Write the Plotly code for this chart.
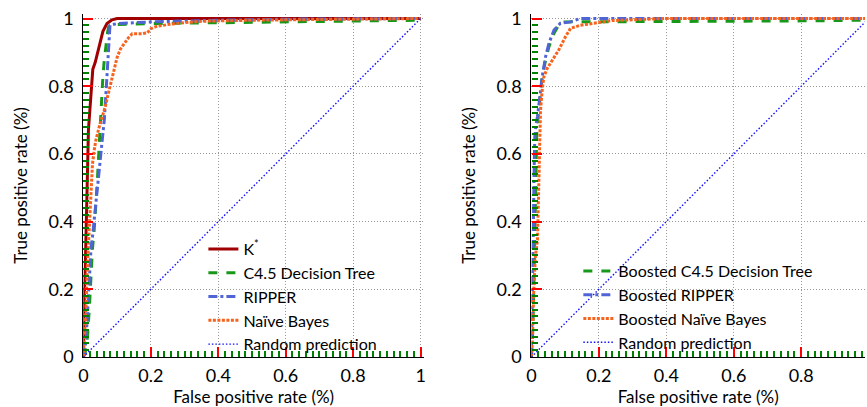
import plotly.graph_objects as go

# ---------------- data ----------------
# Left panel
kstar_x = [0, 0.001, 0.003, 0.006, 0.009, 0.011, 0.013, 0.015, 0.019, 0.022, 0.025, 0.028, 0.035, 0.042, 0.05, 0.058, 0.07, 0.085, 0.1, 0.3, 0.6, 1.0]
kstar_y = [0, 0.08, 0.18, 0.28, 0.38, 0.48, 0.58, 0.67, 0.72, 0.76, 0.80, 0.85, 0.87, 0.90, 0.935, 0.962, 0.985, 0.996, 1.0, 1.0, 1.0, 1.0]

c45_x = [0, 0.005, 0.01, 0.013, 0.018, 0.023, 0.027, 0.032, 0.038, 0.042, 0.047, 0.051, 0.054, 0.058, 0.062, 0.067, 0.072, 0.076, 0.1, 0.2, 0.4, 0.6, 0.8, 1.0]
c45_y = [0, 0.01, 0.04, 0.07, 0.15, 0.27, 0.32, 0.375, 0.455, 0.53, 0.626, 0.70, 0.78, 0.83, 0.877, 0.927, 0.96, 0.98, 0.982, 0.985, 0.988, 0.99, 0.993, 0.995]

ripper_x = [0, 0.003, 0.008, 0.013, 0.018, 0.023, 0.027, 0.037, 0.047, 0.057, 0.062, 0.067, 0.072, 0.076, 0.079, 0.1, 0.2, 0.4, 0.6, 1.0]
ripper_y = [0, 0.01, 0.05, 0.149, 0.248, 0.326, 0.355, 0.454, 0.572, 0.67, 0.70, 0.78, 0.877, 0.95, 0.98, 0.985, 0.99, 0.995, 0.998, 1.0]

nb_x = [0, 0.002, 0.005, 0.008, 0.011, 0.015, 0.018, 0.023, 0.027, 0.032, 0.037, 0.047, 0.057, 0.065, 0.072, 0.081, 0.09, 0.1, 0.11, 0.12, 0.135, 0.145, 0.16, 0.175, 0.19, 0.2, 0.215, 0.25, 0.3, 0.356, 0.5, 0.7, 1.0]
nb_y = [0, 0.03, 0.08, 0.15, 0.25, 0.33, 0.40, 0.50, 0.57, 0.61, 0.64, 0.68, 0.71, 0.74, 0.77, 0.81, 0.85, 0.885, 0.91, 0.925, 0.945, 0.955, 0.955, 0.955, 0.958, 0.97, 0.976, 0.982, 0.988, 0.992, 0.995, 0.997, 1.0]

# Right panel (boosted)
bc45_x = [0, 0.003, 0.006, 0.009, 0.011, 0.013, 0.016, 0.019, 0.022, 0.027, 0.032, 0.042, 0.052, 0.067, 0.086, 0.11, 0.2, 0.4, 0.6, 0.8, 1.0]
bc45_y = [0, 0.05, 0.15, 0.30, 0.45, 0.60, 0.67, 0.70, 0.73, 0.789, 0.828, 0.877, 0.917, 0.956, 0.99, 0.99, 0.99, 0.99, 0.992, 0.993, 0.995]

bripper_x = [0, 0.002, 0.004, 0.006, 0.008, 0.010, 0.014, 0.018, 0.025, 0.032, 0.042, 0.052, 0.067, 0.086, 0.116, 0.145, 0.3, 1.0]
bripper_y = [0, 0.10, 0.25, 0.40, 0.55, 0.65, 0.69, 0.71, 0.769, 0.828, 0.887, 0.927, 0.966, 0.986, 0.99, 1.0, 1.0, 1.0]

bnb_x = [0, 0.003, 0.007, 0.012, 0.018, 0.021, 0.024, 0.027, 0.032, 0.037, 0.047, 0.057, 0.067, 0.081, 0.101, 0.116, 0.145, 0.204, 0.24, 0.4, 1.0]
bnb_y = [0, 0.05, 0.20, 0.30, 0.346, 0.50, 0.67, 0.73, 0.789, 0.828, 0.853, 0.868, 0.882, 0.907, 0.946, 0.971, 0.98, 0.99, 0.994, 1.0, 1.0]

rand_x = [0, 1]
rand_y = [0, 1]

# axis ticks: major every 0.2 (labels 0, 0.2, ... 1), minor every 0.02
major_step = 0.2
minor_step = 0.02

# ---------------- styles ----------------
RED = "#a00000"
GREEN = "#189818"
BLUE = "#5064d6"
ORANGE = "#f7621c"
RBLUE = "#1010ff"
FONT = "Lato"

W, H = 867, 407
PX_X = 340.0   # pixels per unit on x
PX_Y = 338.5   # pixels per unit on y
X0_L, X0_R = 79.0, 530.7
Y0 = 357
TOP = 14
YMAX = (Y0 - TOP) / PX_Y
XMAX_L = 1.01
XMAX_R = (W - X0_R) / PX_X
bottom = H - Y0

fig = go.Figure()

def add(x, y, name, color, dash, width, xa, ya, legend):
    fig.add_trace(go.Scatter(x=x, y=y, mode="lines", name=name,
                             line=dict(color=color, dash=dash, width=width),
                             xaxis=xa, yaxis=ya, legend=legend))

NB_DASH = "3px,1.5px"
RAND_DASH = "1.5px,2px"

add(kstar_x, kstar_y, "K<sup>*</sup>", RED, "solid", 3, "x", "y", "legend")
add(c45_x, c45_y, "C4.5 Decision Tree", GREEN, "dash", 3, "x", "y", "legend")
add(ripper_x, ripper_y, "RIPPER", BLUE, "dashdot", 3, "x", "y", "legend")
add(nb_x, nb_y, "Naïve Bayes", ORANGE, NB_DASH, 3, "x", "y", "legend")
add(rand_x, rand_y, "Random prediction", RBLUE, RAND_DASH, 1.4, "x", "y", "legend")

add(bc45_x, bc45_y, "Boosted C4.5 Decision Tree", GREEN, "dash", 3, "x2", "y2", "legend2")
add(bripper_x, bripper_y, "Boosted RIPPER", BLUE, "dashdot", 3, "x2", "y2", "legend2")
add(bnb_x, bnb_y, "Boosted Naïve Bayes", ORANGE, NB_DASH, 3, "x2", "y2", "legend2")
add(rand_x, rand_y, "Random prediction", RBLUE, RAND_DASH, 1.4, "x2", "y2", "legend2")

axis_common = dict(
    tickmode="linear", tick0=0, dtick=major_step,
    ticks="inside", ticklen=10, tickcolor="red", tickwidth=2,
    minor=dict(tickmode="linear", tick0=0, dtick=minor_step, ticks="inside", ticklen=6,
               tickcolor="green", tickwidth=1.5),
    showgrid=True, gridcolor="#9a9a9a", griddash="1px,2px", gridwidth=1,
    showline=True, linecolor="black", linewidth=1.2,
    tickfont=dict(family=FONT, size=18, color="black"),
    title_font=dict(family=FONT, size=17, color="black"),
)

fig.update_layout(
    width=W, height=H,
    margin=dict(l=0, r=0, t=TOP, b=bottom),
    paper_bgcolor="white", plot_bgcolor="white",
    font=dict(family=FONT, color="black"),
    xaxis=dict(axis_common, domain=[X0_L / W, (X0_L + XMAX_L * PX_X) / W],
               range=[0, XMAX_L], ticklabelstandoff=2,
               title=dict(text="False positive rate (%)", standoff=6)),
    yaxis=dict(axis_common, range=[0, YMAX], ticklabelstandoff=5,
               title=dict(text="True positive rate (%)", standoff=16)),
    xaxis2=dict(axis_common, domain=[X0_R / W, 1.0], range=[0, XMAX_R],
                anchor="y2", ticklabelstandoff=2,
                title=dict(text="False positive rate (%)", standoff=6)),
    yaxis2=dict(axis_common, range=[0, YMAX], anchor="x2", ticklabelstandoff=5,
                title=dict(text="True positive rate (%)", standoff=16)),
    legend=dict(x=200 / W, y=(Y0 - 232) / (Y0 - TOP), xanchor="left", yanchor="top",
                bgcolor="rgba(0,0,0,0)", font=dict(family=FONT, size=16, color="black"),
                tracegroupgap=0),
    legend2=dict(x=578 / W, y=(Y0 - 254) / (Y0 - TOP), xanchor="left", yanchor="top",
                 bgcolor="rgba(0,0,0,0)", font=dict(family=FONT, size=16, color="black"),
                 tracegroupgap=0),
)

fig.write_html("out.html")
